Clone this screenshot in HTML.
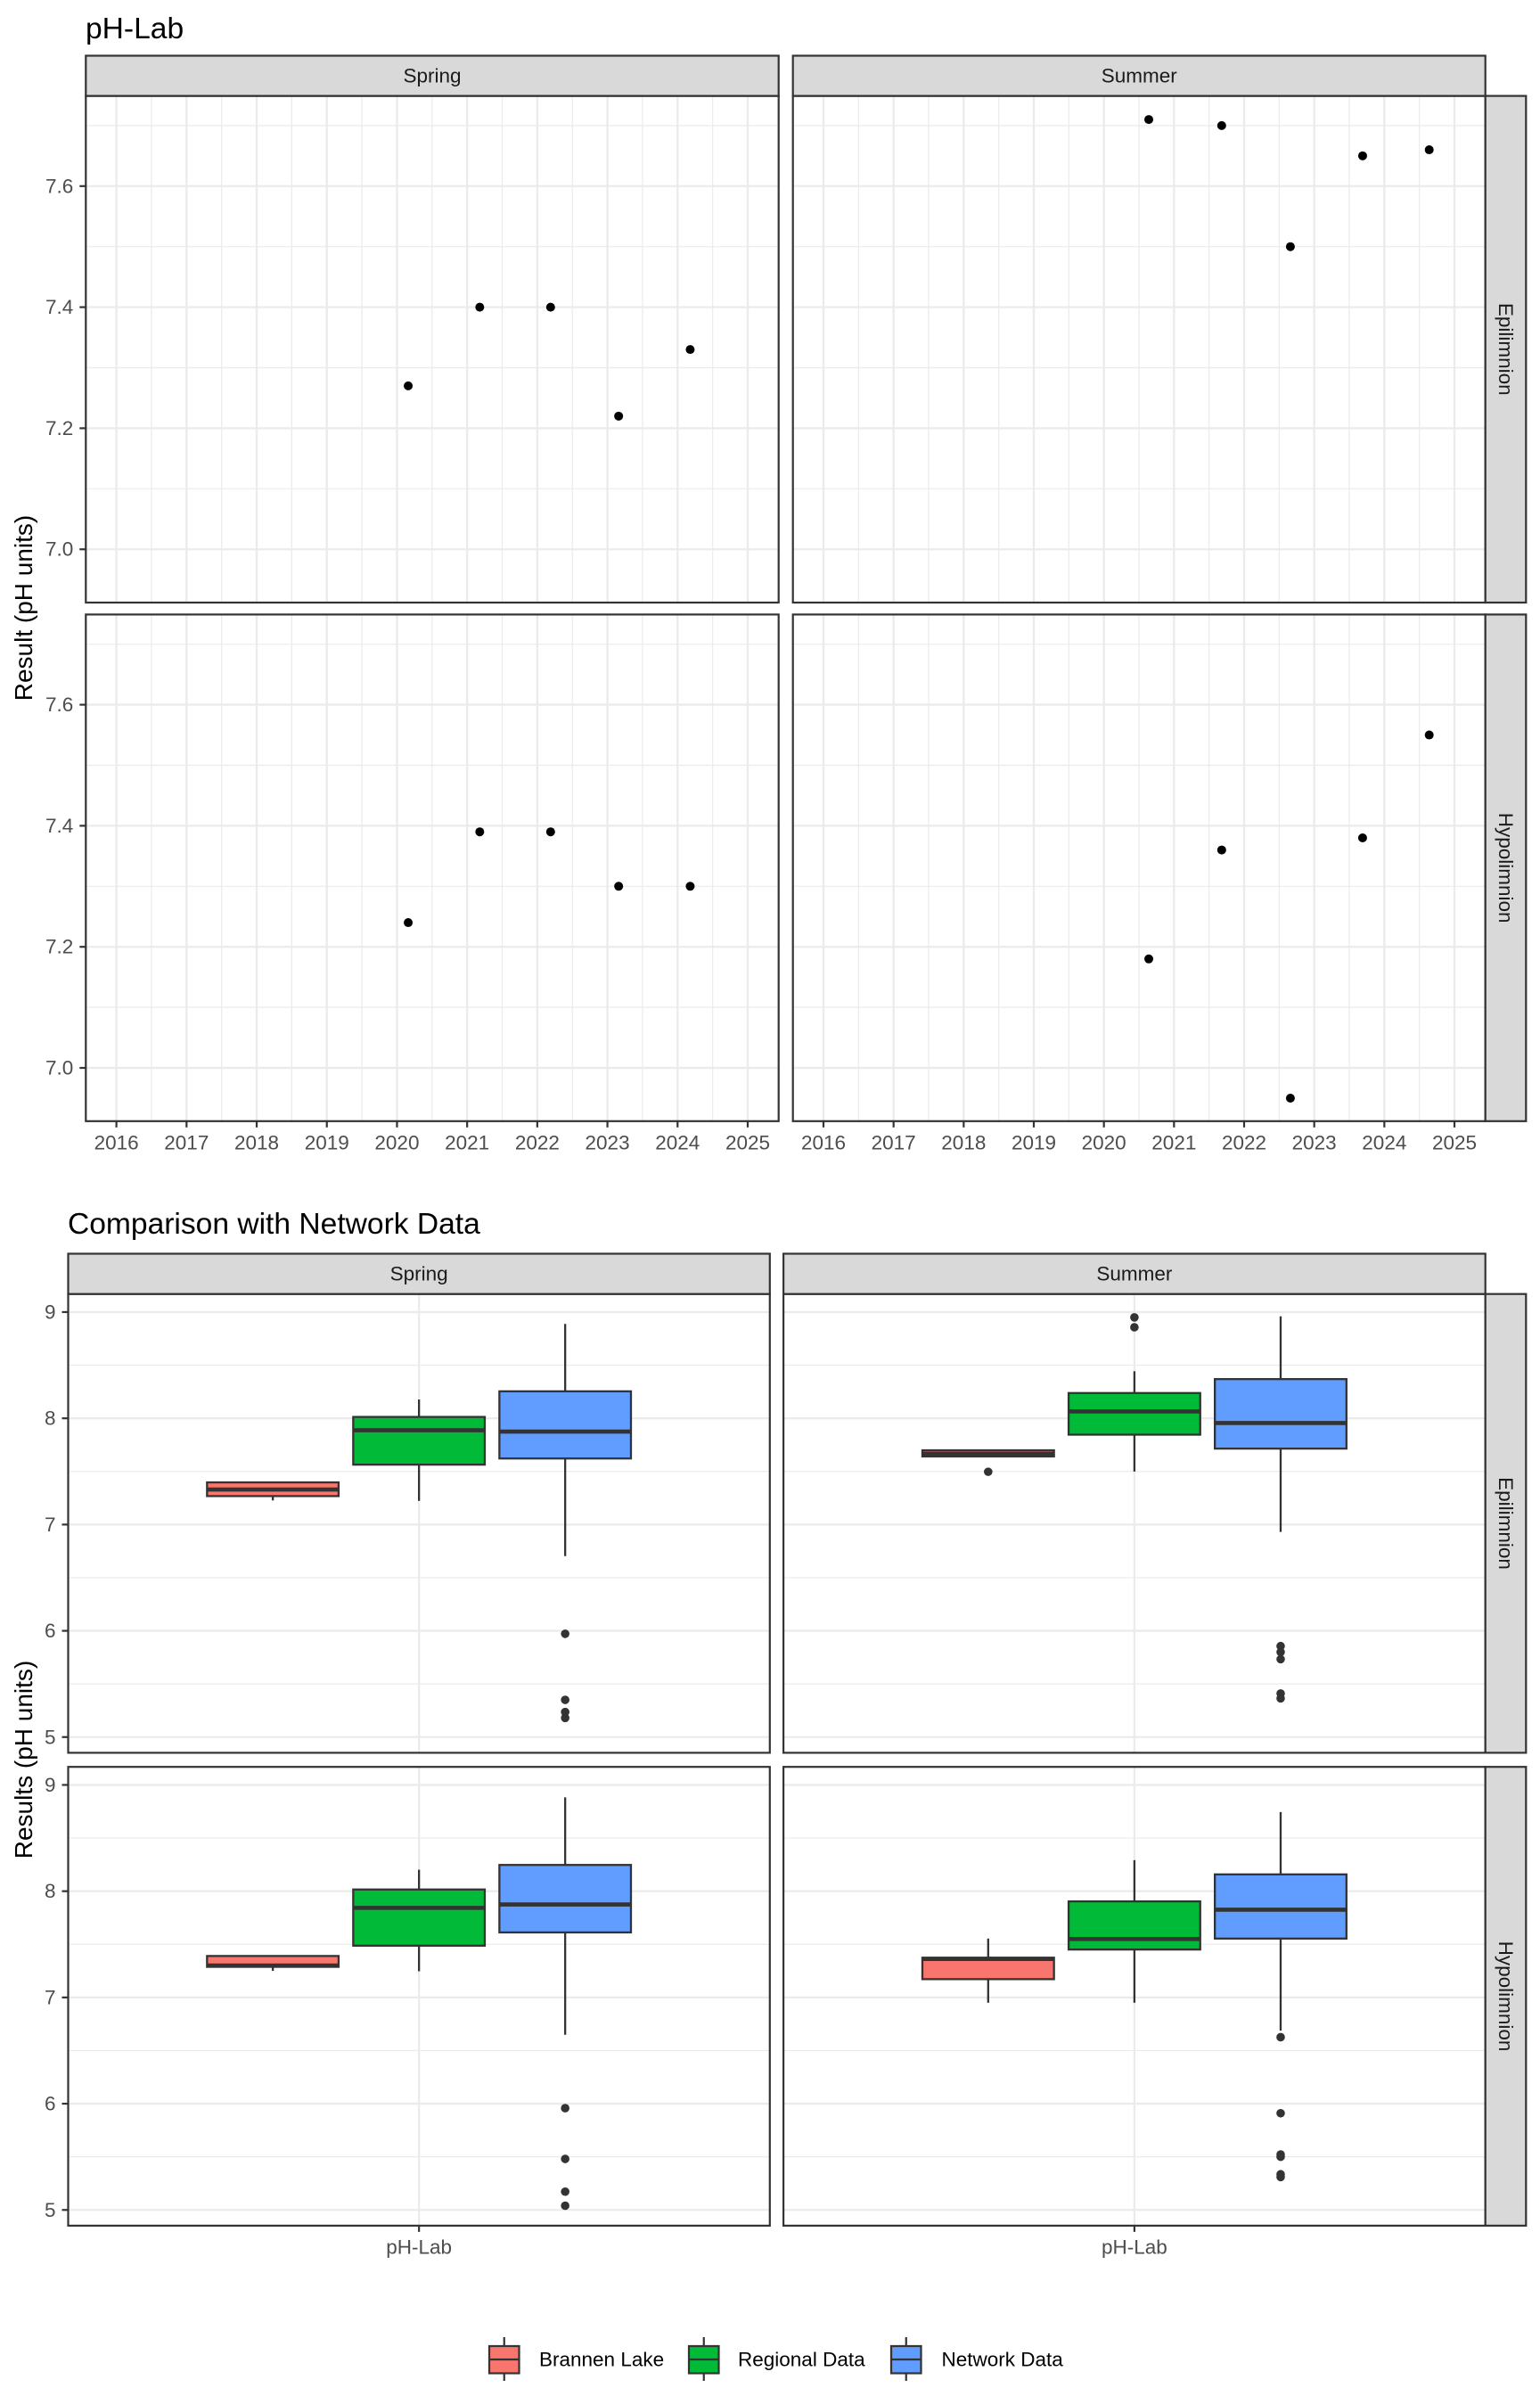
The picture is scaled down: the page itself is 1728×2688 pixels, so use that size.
<!DOCTYPE html>
<html><head><meta charset="utf-8"><title>pH-Lab</title>
<style>
html,body{margin:0;padding:0;background:#fff;}
svg{display:block;font-family:"Liberation Sans",Arial,sans-serif;}
</style></head>
<body>
<svg id="chart" xmlns="http://www.w3.org/2000/svg" width="1728" height="2688" viewBox="0 0 1728 2688">
<rect x="0" y="0" width="1728" height="2688" fill="#fff"/>
<text x="96" y="43" font-size="33.6" fill="#000">pH-Lab</text>
<text x="76" y="1384" font-size="33.6" fill="#000">Comparison with Network Data</text>
<text transform="translate(36,682) rotate(-90)" text-anchor="middle" font-size="28" fill="#000">Result (pH units)</text>
<text transform="translate(36,1974) rotate(-90)" text-anchor="middle" font-size="28" fill="#000">Results (pH units)</text>
</svg>
<script>
// ---------- Top chart data ----------
const springDates = [2020.16, 2021.18, 2022.19, 2023.16, 2024.18];
const springEpi = [7.27, 7.40, 7.40, 7.22, 7.33];
const springHypo = [7.24, 7.39, 7.39, 7.30, 7.30];
const summerDates = [2020.64, 2021.68, 2022.66, 2023.69, 2024.64];
const summerEpi = [7.71, 7.70, 7.50, 7.65, 7.66];
const summerHypo = [7.18, 7.36, 6.95, 7.38, 7.55];
const yearTicks = [2016, 2017, 2018, 2019, 2020, 2021, 2022, 2023, 2024, 2025];
const phTicks = [7.0, 7.2, 7.4, 7.6];
const phTickLabels = ["7.0", "7.2", "7.4", "7.6"];
const seasons = ["Spring", "Summer"];
const layers = ["Epilimnion", "Hypolimnion"];

// ---------- Bottom chart data ----------
const groups = ["Brannen Lake", "Regional Data", "Network Data"];
const groupColors = ["#F8766D", "#00BA38", "#619CFF"];
const boxTicks = [5, 6, 7, 8, 9];
const boxTickLabels = ["5", "6", "7", "8", "9"];
// [lowWhisker, q1, median, q3, highWhisker]
const springEpiStats = [[7.227, 7.268, 7.33, 7.397, 7.40], [7.223, 7.564, 7.888, 8.013, 8.177], [6.703, 7.622, 7.875, 8.254, 8.889]];
const summerEpiStats = [[7.641, 7.641, 7.666, 7.699, 7.699], [7.499, 7.846, 8.065, 8.238, 8.443], [6.931, 7.715, 7.956, 8.369, 8.96]];
const springHypoStats = [[7.25, 7.288, 7.30, 7.39, 7.39], [7.246, 7.487, 7.843, 8.016, 8.202], [6.649, 7.612, 7.875, 8.247, 8.883]];
const summerHypoStats = [[6.95, 7.172, 7.362, 7.374, 7.554], [6.95, 7.451, 7.55, 7.904, 8.292], [6.687, 7.554, 7.826, 8.158, 8.745]];
const springEpiOutliers = [[], [], [5.972, 5.35, 5.236, 5.18]];
const summerEpiOutliers = [[7.497], [8.95, 8.857], [5.856, 5.80, 5.733, 5.41, 5.364]];
const springHypoOutliers = [[], [], [5.958, 5.48, 5.172, 5.04]];
const summerHypoOutliers = [[], [], [6.626, 5.91, 5.522, 5.50, 5.336, 5.31]];

const NS = "http://www.w3.org/2000/svg";
const svg = document.getElementById("chart");
function mk(tag, attrs, parent) {
  const e = document.createElementNS(NS, tag);
  for (const k in attrs) e.setAttribute(k, attrs[k]);
  (parent || svg).appendChild(e);
  return e;
}

// ================= TOP CHART =================
const topPanelsX = [[96.3, 873.7], [889.7, 1666.7]];
const topRowsY = [[107.6, 676], [689.4, 1257.8]];
const topStripY = [62.5, 107.6];
const xDomain = [2015.564, 2025.441];
const yDomainTop = [6.912, 7.749];
function tx(col, d) { const p = topPanelsX[col]; return p[0] + (d - xDomain[0]) / (xDomain[1] - xDomain[0]) * (p[1] - p[0]); }
function ty(row, v) { const r = topRowsY[row]; return r[1] - (v - yDomainTop[0]) / (yDomainTop[1] - yDomainTop[0]) * (r[1] - r[0]); }

const topData = [[springEpi, summerEpi], [springHypo, summerHypo]];
const topDates = [springDates, summerDates];

for (let row = 0; row < 2; row++) {
  for (let col = 0; col < 2; col++) {
    const [x0, x1] = topPanelsX[col], [y0, y1] = topRowsY[row];
    const g = mk("g", {});
    
    
    const bg = mk("rect", {x: x0, y: y0, width: x1 - x0, height: y1 - y0, fill: "#fff"}, g);
    
    
    // minor grid y
    for (let v = 7.1; v < yDomainTop[1]; v += 0.2) {
      const l = mk("line", {x1: x0, x2: x1, y1: ty(row, v), y2: ty(row, v), stroke: "#EBEBEB", "stroke-width": 1.2}, g);
      
      
    }
    // minor grid x
    for (let yr = 2016.5; yr < xDomain[1]; yr += 1) {
      const l = mk("line", {x1: tx(col, yr), x2: tx(col, yr), y1: y0, y2: y1, stroke: "#EBEBEB", "stroke-width": 1.2}, g);
      
      
    }
    phTicks.forEach(v => {
      const l = mk("line", {x1: x0, x2: x1, y1: ty(row, v), y2: ty(row, v), stroke: "#EBEBEB", "stroke-width": 2.3}, g);
      
      
    });
    yearTicks.forEach(yr => {
      const l = mk("line", {x1: tx(col, yr), x2: tx(col, yr), y1: y0, y2: y1, stroke: "#EBEBEB", "stroke-width": 2.3}, g);
      
      
    });
    // points
    const vals = topData[row][col], dates = topDates[col];
    vals.forEach((v, i) => {
      const c = mk("circle", {cx: tx(col, dates[i]), cy: ty(row, v), r: 5, fill: "#000"}, g);
      
      
    });
    const border = mk("rect", {x: x0, y: y0, width: x1 - x0, height: y1 - y0, fill: "none", stroke: "#333", "stroke-width": 2.2}, g);
    
    
    // y ticks on left column
    if (col === 0) {
      phTicks.forEach((v, i) => {
        const t = mk("line", {x1: x0 - 7, x2: x0, y1: ty(row, v), y2: ty(row, v), stroke: "#333", "stroke-width": 2.2});
        
        
        const lab = mk("text", {x: x0 - 14, y: ty(row, v), "text-anchor": "end", "dominant-baseline": "central", "font-size": 22.5, fill: "#4D4D4D"});
        lab.textContent = phTickLabels[i];
        
        
      });
    }
    // x ticks on bottom row
    if (row === 1) {
      yearTicks.forEach(yr => {
        const t = mk("line", {x1: tx(col, yr), x2: tx(col, yr), y1: y1, y2: y1 + 7, stroke: "#333", "stroke-width": 2.2});
        
        
        const lab = mk("text", {x: tx(col, yr), y: 1282, "text-anchor": "middle", "dominant-baseline": "central", "font-size": 22.5, fill: "#4D4D4D"});
        lab.textContent = String(yr);
        
        
      });
    }
  }
}
// top strips
for (let col = 0; col < 2; col++) {
  const [x0, x1] = topPanelsX[col];
  const s = mk("rect", {x: x0, y: topStripY[0], width: x1 - x0, height: topStripY[1] - topStripY[0], fill: "#D9D9D9", stroke: "#333", "stroke-width": 2.2});
  
  
  const t = mk("text", {x: (x0 + x1) / 2, y: (topStripY[0] + topStripY[1]) / 2, "text-anchor": "middle", "dominant-baseline": "central", "font-size": 22.5, fill: "#1A1A1A"});
  t.textContent = seasons[col];
  
  
}
for (let row = 0; row < 2; row++) {
  const [y0, y1] = topRowsY[row];
  const s = mk("rect", {x: 1666.7, y: y0, width: 45.6, height: y1 - y0, fill: "#D9D9D9", stroke: "#333", "stroke-width": 2.2});
  
  
  const t = mk("text", {transform: "translate(1689.5," + ((y0 + y1) / 2) + ") rotate(90)", "text-anchor": "middle", "dominant-baseline": "central", "font-size": 22.5, fill: "#1A1A1A"});
  t.textContent = layers[row];
  
  
}

// ================= BOTTOM CHART =================
const botPanelsX = [[76.5, 863.8], [879.1, 1666.7]];
const botRowsY = [[1451.7, 1966.4], [1982.2, 2496.9]];
const botStripY = [1406.5, 1451.7];
const yDomainBot = [4.852, 9.17];
const groupOffset = [-0.25, 0, 0.25];
const boxWidthUnits = 0.225;
function bx(col, u) { const p = botPanelsX[col]; return p[0] + (u - 0.4) / 1.2 * (p[1] - p[0]); }
function by(row, v) { const r = botRowsY[row]; return r[1] - (v - yDomainBot[0]) / (yDomainBot[1] - yDomainBot[0]) * (r[1] - r[0]); }

const statsGrid = [[springEpiStats, summerEpiStats], [springHypoStats, summerHypoStats]];
const outGrid = [[springEpiOutliers, summerEpiOutliers], [springHypoOutliers, summerHypoOutliers]];

for (let row = 0; row < 2; row++) {
  for (let col = 0; col < 2; col++) {
    const [x0, x1] = botPanelsX[col], [y0, y1] = botRowsY[row];
    const g = mk("g", {});
    
    
    const bg = mk("rect", {x: x0, y: y0, width: x1 - x0, height: y1 - y0, fill: "#fff"}, g);
    
    
    for (let v = 5.5; v < yDomainBot[1]; v += 1) {
      const l = mk("line", {x1: x0, x2: x1, y1: by(row, v), y2: by(row, v), stroke: "#EBEBEB", "stroke-width": 1.2}, g);
      
      
    }
    boxTicks.forEach(v => {
      const l = mk("line", {x1: x0, x2: x1, y1: by(row, v), y2: by(row, v), stroke: "#EBEBEB", "stroke-width": 2.3}, g);
      
      
    });
    const vl = mk("line", {x1: bx(col, 1), x2: bx(col, 1), y1: y0, y2: y1, stroke: "#EBEBEB", "stroke-width": 2.3}, g);
    
    
    const stats = statsGrid[row][col], outs = outGrid[row][col];
    stats.forEach((s, gi) => {
      const c = 1 + groupOffset[gi];
      const cx = bx(col, c), xl = bx(col, c - boxWidthUnits / 2), xr = bx(col, c + boxWidthUnits / 2);
      const bgp = mk("g", {}, g);
      
      
      const w1 = mk("line", {x1: cx, x2: cx, y1: by(row, s[0]), y2: by(row, s[1]), stroke: "#333", "stroke-width": 2.3}, bgp);
      
      
      const w2 = mk("line", {x1: cx, x2: cx, y1: by(row, s[3]), y2: by(row, s[4]), stroke: "#333", "stroke-width": 2.3}, bgp);
      
      
      const r = mk("rect", {x: xl, y: by(row, s[3]), width: xr - xl, height: Math.max(by(row, s[1]) - by(row, s[3]), 0.5), fill: groupColors[gi], stroke: "#333", "stroke-width": 2.3}, bgp);
      
      
      const m = mk("line", {x1: xl, x2: xr, y1: by(row, s[2]), y2: by(row, s[2]), stroke: "#333", "stroke-width": 4.6}, bgp);
      
      
      outs[gi].forEach(v => {
        const o = mk("circle", {cx: cx, cy: by(row, v), r: 4.8, fill: "#333"}, bgp);
        
        
      });
    });
    const border = mk("rect", {x: x0, y: y0, width: x1 - x0, height: y1 - y0, fill: "none", stroke: "#333", "stroke-width": 2.2}, g);
    
    
    if (col === 0) {
      boxTicks.forEach((v, i) => {
        const t = mk("line", {x1: x0 - 7, x2: x0, y1: by(row, v), y2: by(row, v), stroke: "#333", "stroke-width": 2.2});
        
        
        const lab = mk("text", {x: x0 - 14, y: by(row, v), "text-anchor": "end", "dominant-baseline": "central", "font-size": 22.5, fill: "#4D4D4D"});
        lab.textContent = boxTickLabels[i];
        
        
      });
    }
    if (row === 1) {
      const t = mk("line", {x1: bx(col, 1), x2: bx(col, 1), y1: y1, y2: y1 + 7, stroke: "#333", "stroke-width": 2.2});
      
      
      const lab = mk("text", {x: bx(col, 1), y: 2521, "text-anchor": "middle", "dominant-baseline": "central", "font-size": 22.5, fill: "#4D4D4D"});
      lab.textContent = "pH-Lab";
      
      
    }
  }
}
for (let col = 0; col < 2; col++) {
  const [x0, x1] = botPanelsX[col];
  const s = mk("rect", {x: x0, y: botStripY[0], width: x1 - x0, height: botStripY[1] - botStripY[0], fill: "#D9D9D9", stroke: "#333", "stroke-width": 2.2});
  
  
  const t = mk("text", {x: (x0 + x1) / 2, y: (botStripY[0] + botStripY[1]) / 2, "text-anchor": "middle", "dominant-baseline": "central", "font-size": 22.5, fill: "#1A1A1A"});
  t.textContent = seasons[col];
  
  
}
for (let row = 0; row < 2; row++) {
  const [y0, y1] = botRowsY[row];
  const s = mk("rect", {x: 1666.7, y: y0, width: 45.6, height: y1 - y0, fill: "#D9D9D9", stroke: "#333", "stroke-width": 2.2});
  
  
  const t = mk("text", {transform: "translate(1689.5," + ((y0 + y1) / 2) + ") rotate(90)", "text-anchor": "middle", "dominant-baseline": "central", "font-size": 22.5, fill: "#1A1A1A"});
  t.textContent = layers[row];
  
  
}

// ================= LEGEND =================
const legendKeyX = [549, 773, 1000];
const legendTextX = [605, 828, 1056.5];
groups.forEach((name, i) => {
  const lg = mk("g", {});
  
  
  const kx = legendKeyX[i], kw = 33.5, cx = kx + kw / 2;
  const wl = mk("line", {x1: cx, x2: cx, y1: 2622, y2: 2671, stroke: "#333", "stroke-width": 2.2}, lg);
  
  
  const r = mk("rect", {x: kx, y: 2632, width: kw, height: 30.5, fill: groupColors[i], stroke: "#333", "stroke-width": 2.2}, lg);
  
  
  const ml = mk("line", {x1: kx, x2: kx + kw, y1: 2647, y2: 2647, stroke: "#333", "stroke-width": 2.2}, lg);
  
  
  const t = mk("text", {x: legendTextX[i], y: 2647, "dominant-baseline": "central", "font-size": 22.5, fill: "#000"}, lg);
  t.textContent = name;
  
  
});
</script>
</body></html>
